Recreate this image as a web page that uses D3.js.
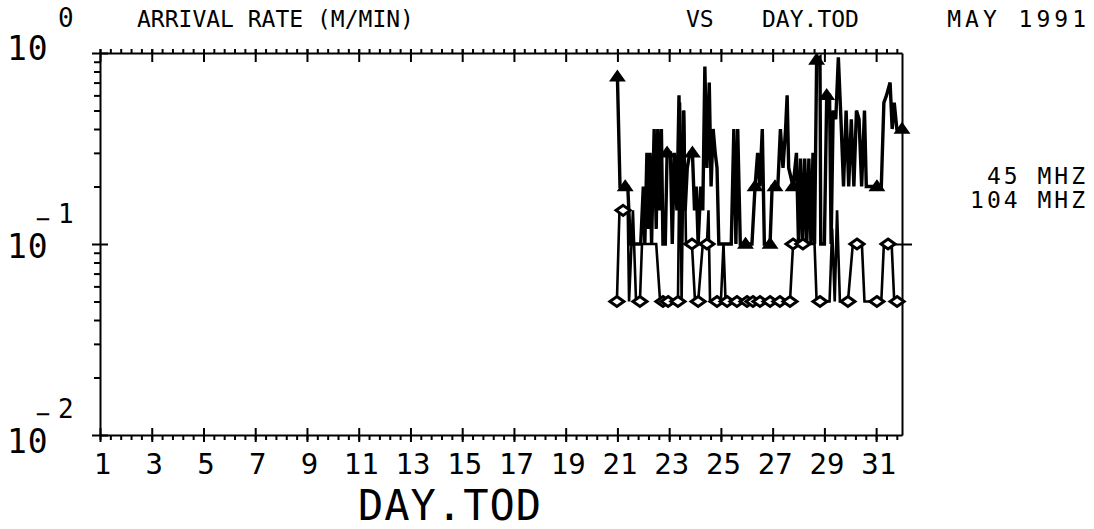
<!DOCTYPE html>
<html lang="en">
<head>
<meta charset="utf-8" />
<title>Arrival rate vs day.tod</title>
<style>
  body { margin: 0; background: #fff; }
  svg text { font-family: "DejaVu Sans Mono", monospace; fill: #000; }
  .axis path, .axis line { stroke: #000; stroke-width: 2; }
</style>
</head>
<body>
<div id="graph"></div>
<script src="https://d3js.org/d3.v7.min.js"></script>
<script>
// ---- data (day of May 1991, arrival rate m/min) ----
const days45 = [21.00, 21.10, 21.30, 21.40, 21.50, 21.75, 21.90, 22.00, 22.06, 22.14,
  22.20, 22.26, 22.32, 22.42, 22.50, 22.56, 22.64, 22.70, 22.76, 22.85,
  22.92, 23.05, 23.12, 23.20, 23.30, 23.38, 23.46, 23.55, 23.62, 23.70,
  23.80, 23.90, 23.98, 24.05, 24.12, 24.22, 24.30, 24.38, 24.46, 24.55,
  24.62, 24.70, 24.78, 24.85, 24.92, 25.30, 25.40, 25.50, 25.58, 25.65,
  25.75, 25.95, 26.20, 26.32, 26.42, 26.50, 26.60, 26.68, 26.90, 26.98,
  27.09, 27.20, 27.30, 27.40, 27.50, 27.56, 27.62, 27.79, 27.92, 28.00,
  28.08, 28.16, 28.24, 28.32, 28.40, 28.48, 28.56, 28.62, 28.70, 28.83,
  28.86, 29.00, 29.09, 29.20, 29.26, 29.34, 29.44, 29.54, 29.64, 29.74,
  29.84, 29.94, 30.04, 30.14, 30.24, 30.34, 30.44, 30.55, 30.62, 31.03,
  31.20, 31.30, 31.40, 31.54, 31.62, 31.70, 31.80, 32.00];
const rate45 = [0.75, 0.2, 0.2, 0.2, 0.1, 0.1, 0.1, 0.2, 0.1, 0.3,
  0.12, 0.3, 0.1, 0.4, 0.12, 0.4, 0.15, 0.4, 0.1, 0.1,
  0.3, 0.3, 0.1, 0.3, 0.15, 0.6, 0.1, 0.5, 0.15, 0.25,
  0.3, 0.3, 0.15, 0.2, 0.1, 0.2, 0.15, 0.85, 0.25, 0.7,
  0.2, 0.4, 0.3, 0.25, 0.1, 0.1, 0.1, 0.4, 0.1, 0.4,
  0.1, 0.1, 0.1, 0.2, 0.3, 0.2, 0.4, 0.1, 0.1, 0.2,
  0.2, 0.2, 0.4, 0.25, 0.4, 0.6, 0.25, 0.2, 0.3, 0.1,
  0.28, 0.1, 0.28, 0.1, 0.28, 0.1, 0.3, 0.1, 0.92, 0.95,
  0.1, 0.1, 0.6, 0.6, 0.1, 0.5, 0.45, 0.95, 0.45, 0.2,
  0.5, 0.2, 0.45, 0.2, 0.5, 0.45, 0.2, 0.5, 0.2, 0.2,
  0.2, 0.55, 0.6, 0.7, 0.4, 0.55, 0.4, 0.4];
const marks45 = [21.00, 21.30, 22.92, 23.90, 25.95, 26.32, 26.90, 27.09, 27.79, 28.70, 29.09, 31.03, 32.00];

const days104 = [20.98, 21.08, 21.22, 21.40, 21.45, 21.60, 21.72, 21.87, 21.95, 22.50,
  22.65, 22.76, 22.96, 23.15, 23.34, 23.42, 23.48, 23.58, 23.65, 23.88,
  24.00, 24.12, 24.30, 24.46, 24.52, 24.58, 24.85, 25.00, 25.10, 25.18,
  25.24, 25.62, 26.01, 26.24, 26.51, 26.90, 27.28, 27.67, 27.79, 28.17,
  28.62, 28.70, 28.83, 29.20, 29.30, 29.40, 29.49, 29.60, 29.91, 30.10,
  30.26, 30.45, 30.55, 31.03, 31.20, 31.30, 31.46, 31.60, 31.70, 31.81, 32.00];
const rate104 = [0.05, 0.15, 0.15, 0.15, 0.05, 0.15, 0.05, 0.05, 0.1, 0.1,
  0.05, 0.05, 0.05, 0.05, 0.05, 0.55, 0.05, 0.5, 0.1, 0.1,
  0.05, 0.05, 0.1, 0.1, 0.15, 0.05, 0.05, 0.05, 0.1, 0.05,
  0.05, 0.05, 0.05, 0.05, 0.05, 0.05, 0.05, 0.05, 0.1, 0.1,
  0.1, 0.05, 0.05, 0.05, 0.12, 0.05, 0.15, 0.05, 0.05, 0.1,
  0.1, 0.1, 0.05, 0.05, 0.05, 0.1, 0.1, 0.1, 0.05, 0.05, 0.05];
const marks104 = [20.98, 21.22, 21.87, 22.76, 22.96, 23.34, 23.88, 24.12, 24.46, 24.85,
  25.24, 25.62, 26.01, 26.24, 26.51, 26.90, 27.28, 27.67, 27.79, 28.17,
  28.83, 29.91, 30.26, 31.03, 31.46, 31.81];

const dayTicks = d3.range(1, 32, 2);            // labelled days 1..31
const dayMinor = d3.range(1, 32.01, 0.4);       // small ticks
const yMajor = [0.01, 0.1, 1];
const yMinor = [2,3,4,5,6,7,8,9].flatMap(k => [k * 0.01, k * 0.1]);
const legendNames = ["45 MHZ", "104 MHZ"];

// ---- layout ----
const W = 1094, H = 529;
const plot = { left: 100, right: 902, top: 53, bottom: 435 };

const x = d3.scaleLinear().domain([1, 32]).range([plot.left, plot.right]);
const y = d3.scaleLog().domain([0.01, 1]).range([plot.bottom, plot.top]);

const svg = d3.select("#graph").append("svg")
  .attr("width", W)
  .attr("height", H);

// bottom axis: minor ticks point down, majors cross the line
svg.append("g").attr("class", "axis")
  .attr("transform", "translate(0," + plot.bottom + ")")
  .call(d3.axisBottom(x).tickValues(dayMinor).tickSize(5).tickSizeOuter(0).tickFormat(""));
const bottomMaj = svg.append("g").attr("class", "axis")
  .attr("transform", "translate(0," + plot.bottom + ")")
  .call(d3.axisBottom(x).tickValues(dayTicks).tickSize(7).tickSizeOuter(0).tickFormat(d3.format("d")));
bottomMaj.select(".domain").remove();
bottomMaj.selectAll(".tick line").attr("y1", -7).attr("y2", 7);
bottomMaj.selectAll(".tick text")
  .attr("x", 2).attr("y", 39).attr("dy", null)
  .style("font-size", "29px");

// top axis: small ticks up, majors hang down
svg.append("g").attr("class", "axis")
  .attr("transform", "translate(0," + plot.top + ")")
  .call(d3.axisTop(x).tickValues(dayMinor).tickSize(4).tickSizeOuter(0).tickFormat(""));
svg.append("g").attr("class", "axis")
  .attr("transform", "translate(0," + plot.top + ")")
  .call(d3.axisTop(x).tickValues(dayTicks).tickSize(4).tickSizeOuter(0).tickFormat(""))
  .call(g => g.select(".domain").remove())
  .selectAll(".tick line").attr("y1", 9).attr("y2", -4);

// left axis: log minor ticks outside, majors crossing
svg.append("g").attr("class", "axis")
  .attr("transform", "translate(" + plot.left + ",0)")
  .call(d3.axisLeft(y).tickValues(yMinor).tickSize(6).tickSizeOuter(0).tickFormat(""));
svg.append("g").attr("class", "axis")
  .attr("transform", "translate(" + plot.left + ",0)")
  .call(d3.axisLeft(y).tickValues(yMajor).tickSize(8).tickFormat(""))
  .call(g => g.select(".domain").remove())
  .selectAll(".tick line").attr("x1", 8).attr("x2", -8);

// right axis: plain line with a crossing mark at 10^-1
svg.append("g").attr("class", "axis")
  .attr("transform", "translate(" + plot.right + ",0)")
  .call(d3.axisRight(y).tickValues([0.1]).tickSizeOuter(0).tickFormat(""))
  .selectAll(".tick line").attr("x1", -10).attr("x2", 10);

// y labels 10^n  (base "10", minus over the 0, exponent to the right)
const yLabels = [
  { v: 1, sup: "0", base: 60, supY: 27, minus: false },
  { v: 0.1, sup: "1", base: 258, supY: 223, minus: true },
  { v: 0.01, sup: "2", base: 453, supY: 418, minus: true }
];
yLabels.forEach(d => {
  svg.append("text").attr("x", 7).attr("y", d.base)
    .style("font-size", "33px").style("letter-spacing", "1px").text("10");
  if (d.minus) {
    svg.append("text").attr("x", 43).attr("y", d.base - 31)
      .attr("text-anchor", "middle")
      .style("font-size", "24px").text("\u2212");
  }
  svg.append("text").attr("x", 58).attr("y", d.supY)
    .style("font-size", "26px").text(d.sup);
});

// title line
svg.append("text").attr("x", 137).attr("y", 27).style("font-size", "23px").text("ARRIVAL RATE (M/MIN)");
svg.append("text").attr("x", 686).attr("y", 27).style("font-size", "23px").text("VS");
svg.append("text").attr("x", 762).attr("y", 27).style("font-size", "23px").text("DAY.TOD");
svg.append("text").attr("x", 1090).attr("y", 27).attr("text-anchor", "end")
  .style("font-size", "23px").style("letter-spacing", "4px").text("MAY 1991");

// x axis title
svg.append("text").attr("x", 450).attr("y", 520).attr("text-anchor", "middle")
  .style("font-size", "42px").style("letter-spacing", "1px").text("DAY.TOD");

// legend (names only, right side)
svg.selectAll(".legend").data(legendNames).enter().append("text")
  .attr("class", "legend")
  .attr("x", 1088)
  .attr("y", (d, i) => 184 + i * 24)
  .attr("text-anchor", "end")
  .style("font-size", "23px").style("letter-spacing", "3px")
  .text(d => d);

// ---- series ----
const s45 = days45.map((d, i) => ({ day: d, v: rate45[i] }));
const s104 = days104.map((d, i) => ({ day: d, v: rate104[i] }));

const line = d3.line().x(d => x(d.day)).y(d => y(d.v));

svg.append("path").datum(s104)
  .attr("fill", "none").attr("stroke", "#000").attr("stroke-width", 2.6)
  .attr("stroke-linejoin", "miter").attr("d", line);
svg.append("path").datum(s45)
  .attr("fill", "none").attr("stroke", "#000").attr("stroke-width", 3.4)
  .attr("stroke-linejoin", "miter").attr("d", line);

const tri = "M0,-6L7,4L-7,4Z";
const dia = "M0,-5L7,0L0,5L-7,0Z";

svg.selectAll(".m45").data(s45.filter(d => marks45.includes(d.day))).enter()
  .append("path").attr("class", "m45")
  .attr("transform", d => "translate(" + x(d.day) + "," + y(d.v) + ")")
  .attr("d", tri).attr("fill", "#000").attr("stroke", "#000").attr("stroke-width", 1.5);

svg.selectAll(".m104").data(s104.filter(d => marks104.includes(d.day))).enter()
  .append("path").attr("class", "m104")
  .attr("transform", d => "translate(" + x(d.day) + "," + y(d.v) + ")")
  .attr("d", dia).attr("fill", "#fff").attr("stroke", "#000").attr("stroke-width", 3);
</script>
</body>
</html>
